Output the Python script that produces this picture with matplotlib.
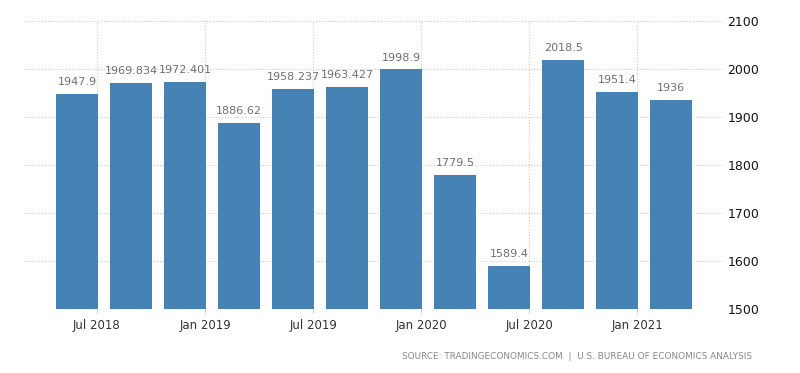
import matplotlib.pyplot as plt

# Quarterly values (Q2 2018 .. Q1 2021)
values = [1947.9, 1969.834, 1972.401, 1886.62, 1958.237, 1963.427,
          1998.9, 1779.5, 1589.4, 2018.5, 1951.4, 1936]
labels = ['1947.9', '1969.834', '1972.401', '1886.62', '1958.237', '1963.427',
          '1998.9', '1779.5', '1589.4', '2018.5', '1951.4', '1936']
tick_labels = ['Jul 2018', 'Jan 2019', 'Jul 2019', 'Jan 2020', 'Jul 2020', 'Jan 2021']
y_ticks = [1500, 1600, 1700, 1800, 1900, 2000, 2100]

fig = plt.figure(figsize=(8, 3.73), dpi=100)
ax = fig.add_axes([0.03, 0.171, 0.874, 0.773])

x = list(range(len(values)))
ax.bar(x, values, width=0.78, color='#4682b4', zorder=3)

for xi, v, lab in zip(x, values, labels):
    ax.annotate(lab, (xi, v), xytext=(0, 5), textcoords='offset points',
                ha='center', va='bottom', fontsize=8, color='#707070')

ax.set_ylim(1500, 2100)
ax.set_xlim(-0.98, 11.96)
ax.set_yticks(y_ticks)
ax.set_xticks([i + 0.37 for i in range(0, 12, 2)])
ax.set_xticklabels(tick_labels)

ax.yaxis.tick_right()
ax.tick_params(axis='y', length=0, pad=3, labelsize=9, labelcolor='#111111')
ax.tick_params(axis='x', length=3, color='#cccccc', pad=4, labelsize=8.5,
               labelcolor='#333333')

ax.grid(True, color='#cccccc', linestyle=':', linewidth=0.8, zorder=0)
for s in ax.spines.values():
    s.set_visible(False)

fig.text(0.94, 0.043, 'SOURCE: TRADINGECONOMICS.COM  |  U.S. BUREAU OF ECONOMICS ANALYSIS',
         ha='right', va='center', fontsize=6.4, color='#888888')

fig.savefig('out.png', dpi=100)
